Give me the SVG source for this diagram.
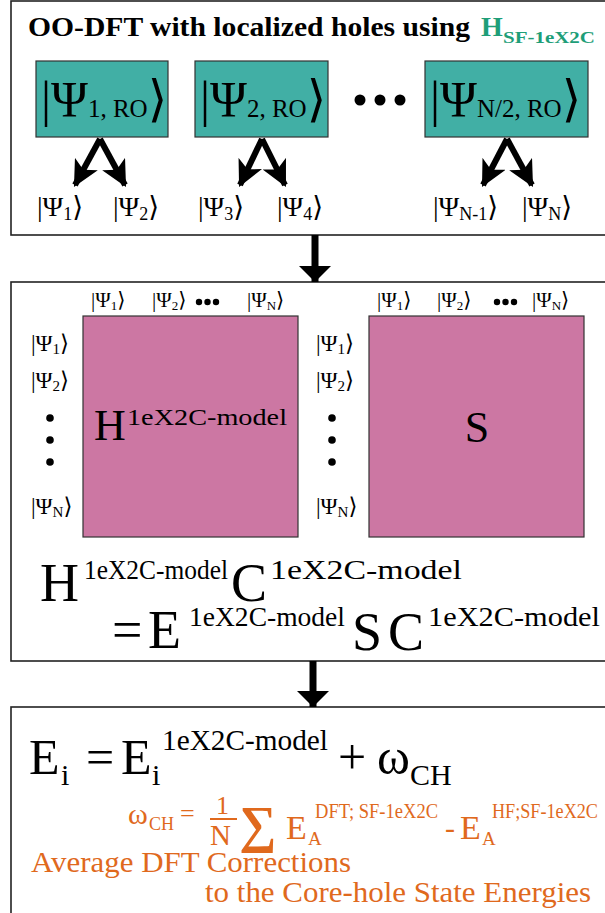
<svg xmlns="http://www.w3.org/2000/svg" width="605" height="913" viewBox="0 0 605 913" font-family="'Liberation Serif', 'Times New Roman', Tinos, 'Noto Serif', 'DejaVu Serif', serif">
<style>
text{font-family:'Liberation Serif','Times New Roman',Tinos,'Noto Serif','DejaVu Serif',serif;fill:#000}
.frame{fill:#fff;stroke:#222;stroke-width:1.6}
.teal{fill:#41AFA5;stroke:#333;stroke-width:1.2}
.pink{fill:#CC77A3;stroke:#333;stroke-width:1.2}
.fork{stroke:#000;stroke-width:6;fill:none;marker-end:url(#ah)}
.down{stroke:#000;stroke-width:7;fill:none;marker-end:url(#bh)}
.org{fill:#E0691D}
.grn{fill:#1E9E78}
.b{font-weight:bold}
</style>
<defs>
<marker id="ah" markerUnits="userSpaceOnUse" markerWidth="26" markerHeight="26" refX="22" refY="12" orient="auto" viewBox="0 0 24 24">
<path d="M0,0 L24,12 L0,24 L6,12 Z" fill="#000"/>
</marker>
<marker id="bh" markerUnits="userSpaceOnUse" markerWidth="30" markerHeight="32" refX="16" refY="16" orient="auto" viewBox="0 0 16 32">
<path d="M0,0 L16,16 L0,32 Z" fill="#000"/>
</marker>
</defs>

<g id="box1">
<rect class="frame" x="11" y="1" width="600" height="234"/>
<text class="b" x="28" y="36" font-size="27" textLength="442" lengthAdjust="spacingAndGlyphs">OO-DFT with localized holes using</text>
<text class="b grn" x="481" y="36" font-size="28">H</text>
<text class="b grn" x="503" y="43" font-size="17" textLength="92" lengthAdjust="spacingAndGlyphs">SF-1eX2C</text>
</g>

<g id="ro1">
<rect class="teal" x="36" y="61" width="132" height="76"/>
<text x="41" y="116" font-size="50">|Ψ<tspan font-size="25" dy="1">1, RO</tspan><tspan dy="-1">⟩</tspan></text>
</g>
<g id="ro2">
<rect class="teal" x="195" y="61" width="133" height="76"/>
<text x="200" y="116" font-size="50">|Ψ<tspan font-size="25" dy="1">2, RO</tspan><tspan dy="-1">⟩</tspan></text>
</g>
<g id="dots1">
<circle cx="360" cy="100" r="5.5"/><circle cx="380" cy="100" r="5.5"/><circle cx="400" cy="100" r="5.5"/>
</g>
<g id="ro3">
<rect class="teal" x="425" y="61" width="163" height="76"/>
<text x="430" y="116" font-size="50">|Ψ<tspan font-size="25" dy="1">N/2, RO</tspan><tspan dy="-1">⟩</tspan></text>
</g>

<g id="psi1"><text x="37" y="216" font-size="28">|Ψ<tspan font-size="18" dy="4">1</tspan><tspan dy="-4">⟩</tspan></text></g>
<g id="psi2"><text x="113" y="216" font-size="28">|Ψ<tspan font-size="18" dy="4">2</tspan><tspan dy="-4">⟩</tspan></text></g>
<g id="psi3"><text x="198" y="216" font-size="28">|Ψ<tspan font-size="18" dy="4">3</tspan><tspan dy="-4">⟩</tspan></text></g>
<g id="psi4"><text x="277" y="216" font-size="28">|Ψ<tspan font-size="18" dy="4">4</tspan><tspan dy="-4">⟩</tspan></text></g>
<g id="psiN1"><text x="433" y="216" font-size="28">|Ψ<tspan font-size="18" dy="4">N-1</tspan><tspan dy="-4">⟩</tspan></text></g>
<g id="psiN"><text x="522" y="216" font-size="28">|Ψ<tspan font-size="18" dy="4">N</tspan><tspan dy="-4">⟩</tspan></text></g>

<g id="box2">
<rect class="frame" x="11" y="282" width="600" height="379"/>
</g>
<g id="matH">
<rect class="pink" x="83" y="316" width="215" height="221"/>
<text x="94" y="440" font-size="44">H</text>
<text x="127" y="425" font-size="23" textLength="160" lengthAdjust="spacingAndGlyphs">1eX2C-model</text>
<g font-size="21">
<text x="91" y="307">|Ψ<tspan font-size="13" dy="3">1</tspan><tspan dy="-3">⟩</tspan></text>
<text x="152" y="307">|Ψ<tspan font-size="13" dy="3">2</tspan><tspan dy="-3">⟩</tspan></text>
<text x="247" y="307">|Ψ<tspan font-size="13" dy="3">N</tspan><tspan dy="-3">⟩</tspan></text>
</g>
<g font-size="23">
<text x="31" y="351">|Ψ<tspan font-size="15" dy="3">1</tspan><tspan dy="-3">⟩</tspan></text>
<text x="31" y="388">|Ψ<tspan font-size="15" dy="3">2</tspan><tspan dy="-3">⟩</tspan></text>
<text x="31" y="514">|Ψ<tspan font-size="15" dy="3">N</tspan><tspan dy="-3">⟩</tspan></text>
</g>
<circle cx="199" cy="302" r="3.2"/><circle cx="207.5" cy="302" r="3.2"/><circle cx="216" cy="302" r="3.2"/>
<circle cx="50" cy="418" r="3.8"/><circle cx="50" cy="440" r="3.8"/><circle cx="50" cy="462" r="3.8"/>
</g>
<g id="matS">
<rect class="pink" x="369" y="316" width="215" height="221"/>
<text x="477" y="442" font-size="44" text-anchor="middle">S</text>
<g font-size="21">
<text x="377" y="307">|Ψ<tspan font-size="13" dy="3">1</tspan><tspan dy="-3">⟩</tspan></text>
<text x="437" y="307">|Ψ<tspan font-size="13" dy="3">2</tspan><tspan dy="-3">⟩</tspan></text>
<text x="532" y="307">|Ψ<tspan font-size="13" dy="3">N</tspan><tspan dy="-3">⟩</tspan></text>
</g>
<g font-size="23">
<text x="316" y="351">|Ψ<tspan font-size="15" dy="3">1</tspan><tspan dy="-3">⟩</tspan></text>
<text x="316" y="388">|Ψ<tspan font-size="15" dy="3">2</tspan><tspan dy="-3">⟩</tspan></text>
<text x="316" y="514">|Ψ<tspan font-size="15" dy="3">N</tspan><tspan dy="-3">⟩</tspan></text>
</g>
<circle cx="497" cy="302" r="3.2"/><circle cx="505.5" cy="302" r="3.2"/><circle cx="514" cy="302" r="3.2"/>
<circle cx="332" cy="418" r="3.8"/><circle cx="332" cy="440" r="3.8"/><circle cx="332" cy="462" r="3.8"/>
</g>
<g id="eq1">
<text x="40" y="601" font-size="54">H</text>
<text x="84" y="579" font-size="28" textLength="144" lengthAdjust="spacingAndGlyphs">1eX2C-model</text>
<text x="231" y="601" font-size="54">C</text>
<text x="270" y="579" font-size="28" textLength="192" lengthAdjust="spacingAndGlyphs">1eX2C-model</text>
<text x="112" y="648" font-size="54">=</text>
<text x="148" y="648" font-size="54">E</text>
<text x="189" y="626" font-size="28" textLength="156" lengthAdjust="spacingAndGlyphs">1eX2C-model</text>
<text x="352" y="650" font-size="54">S</text>
<text x="388" y="650" font-size="54">C</text>
<text x="428" y="626" font-size="28" textLength="172" lengthAdjust="spacingAndGlyphs">1eX2C-model</text>
</g>

<g id="box3">
<rect class="frame" x="11" y="707" width="600" height="220"/>
<text x="29" y="774" font-size="50">E</text>
<text x="61" y="785" font-size="30">i</text>
<text x="86" y="774" font-size="50">=</text>
<text x="121" y="774" font-size="50">E</text>
<text x="152" y="785" font-size="30">i</text>
<text x="162" y="750" font-size="30" textLength="166" lengthAdjust="spacingAndGlyphs">1eX2C-model</text>
<text x="338" y="774" font-size="50">+</text>
<text x="377" y="774" font-size="50">ω</text>
<text x="410" y="785" font-size="30">CH</text>
<g class="org">
<text class="org" x="128" y="824" font-size="30">ω</text>
<text class="org" x="149" y="830" font-size="18">CH</text>
<text class="org" x="180" y="822" font-size="26">=</text>
<text class="org" x="216" y="814" font-size="26">1</text>
<rect x="210" y="818" width="27" height="2"/>
<text class="org" x="210" y="845" font-size="29">N</text>
<text class="org b" x="239" y="842" font-size="52">∑</text>
<text class="org" x="286" y="839" font-size="34">E</text>
<text class="org" x="308" y="845" font-size="19">A</text>
<text class="org" x="315" y="818" font-size="20" textLength="123" lengthAdjust="spacingAndGlyphs">DFT; SF-1eX2C</text>
<text class="org" x="445" y="838" font-size="30">-</text>
<text class="org" x="460" y="839" font-size="34">E</text>
<text class="org" x="482" y="845" font-size="19">A</text>
<text class="org" x="492" y="818" font-size="20" textLength="106" lengthAdjust="spacingAndGlyphs">HF;SF-1eX2C</text>
<text class="org" x="31" y="872" font-size="30" textLength="320" lengthAdjust="spacingAndGlyphs">Average DFT Corrections</text>
<text class="org" x="205" y="902" font-size="30" textLength="386" lengthAdjust="spacingAndGlyphs">to the Core-hole State Energies</text>
</g>
</g>

<g id="connectors">
<path class="fork" d="M100,139 L75,185"/>
<path class="fork" d="M100,139 L125,185"/>
<path class="fork" d="M262,139 L240,185"/>
<path class="fork" d="M262,139 L285,185"/>
<path class="fork" d="M507,139 L483,185"/>
<path class="fork" d="M507,139 L532,185"/>
<path class="down" d="M315,235 L315,282"/>
<path class="down" d="M313,661 L313,707"/>
</g>
</svg>
